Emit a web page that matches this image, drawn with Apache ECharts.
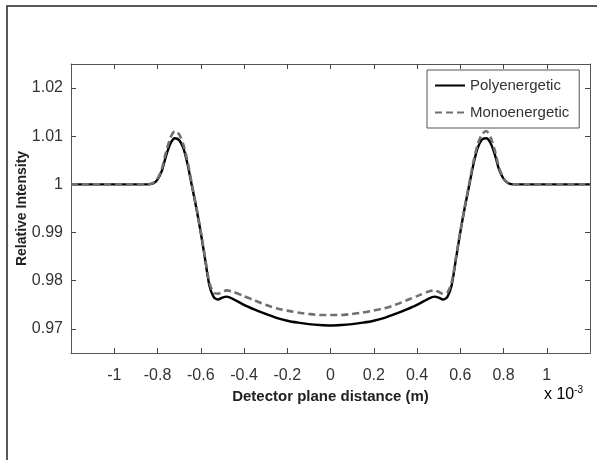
<!DOCTYPE html>
<html>
<head>
<meta charset="utf-8">
<script src="https://cdn.jsdelivr.net/npm/echarts@6/dist/echarts.min.js"></script>
<style>
html, body { margin: 0; padding: 0; background: #fff; }
#main { width: 597px; height: 460px; }
</style>
</head>
<body>
<div id="main"></div>
<script>
// detector position, in units of 1e-3 m
var xs = [-1.2, -0.9, -0.85, -0.82, -0.8, -0.78, -0.76, -0.74, -0.72, -0.7,
  -0.68, -0.66, -0.64, -0.62, -0.6, -0.58, -0.56, -0.54, -0.52, -0.5,
  -0.48, -0.45, -0.4, -0.35, -0.3, -0.25, -0.2, -0.15, -0.1, -0.05,
  0,
  0.05, 0.1, 0.15, 0.2, 0.25, 0.3, 0.35, 0.4, 0.45, 0.48,
  0.5, 0.52, 0.54, 0.56, 0.58, 0.6, 0.62, 0.64, 0.66, 0.68,
  0.7, 0.72, 0.74, 0.76, 0.78, 0.8, 0.82, 0.85, 0.9, 1.2];

var poly = [1.0, 1.0, 1.0, 1.0002, 1.0010, 1.0028, 1.0060, 1.0085, 1.0096, 1.0092,
  1.0075, 1.0040, 0.9995, 0.9950, 0.9900, 0.9845, 0.9790, 0.9766, 0.9761, 0.9765,
  0.9767, 0.9762, 0.9750, 0.9740, 0.9731, 0.9723, 0.9717, 0.9713, 0.9710, 0.9708,
  0.9707,
  0.9708, 0.9710, 0.9713, 0.9717, 0.9723, 0.9731, 0.9740, 0.9750, 0.9762, 0.9767,
  0.9765, 0.9761, 0.9766, 0.9790, 0.9845, 0.9900, 0.9950, 0.9995, 1.0040, 1.0075,
  1.0093, 1.0096, 1.0086, 1.0062, 1.0030, 1.0012, 1.0003, 1.0, 1.0, 1.0];

var mono = [1.0, 1.0, 1.0, 1.0003, 1.0012, 1.0032, 1.0068, 1.0097, 1.0111, 1.0104,
  1.0082, 1.0045, 0.9998, 0.9952, 0.9902, 0.9848, 0.9796, 0.9775, 0.9773, 0.9777,
  0.9780, 0.9777, 0.9768, 0.9759, 0.9750, 0.9743, 0.9738, 0.9734, 0.9731, 0.9729,
  0.9729,
  0.9729, 0.9731, 0.9734, 0.9738, 0.9743, 0.9750, 0.9759, 0.9768, 0.9777, 0.9780,
  0.9777, 0.9773, 0.9775, 0.9796, 0.9848, 0.9902, 0.9952, 0.9998, 1.0045, 1.0082,
  1.0104, 1.0111, 1.0098, 1.0070, 1.0034, 1.0013, 1.0003, 1.0, 1.0, 1.0];

var xTicks = [-1, -0.8, -0.6, -0.4, -0.2, 0, 0.2, 0.4, 0.6, 0.8, 1];
var yTicks = [0.97, 0.98, 0.99, 1, 1.01, 1.02];

function pairs(ys) {
  return xs.map(function (x, i) { return [x, ys[i]]; });
}

var font = 'Liberation Sans';

function xAxisCfg(pos, labels) {
  return {
    type: 'value', position: pos, min: -1.2, max: 1.2,
    axisLine: { show: true, onZero: false, lineStyle: { color: '#555', width: 1 } },
    axisTick: { show: true, inside: true, length: 5, customValues: xTicks, lineStyle: { color: '#444' } },
    axisLabel: {
      show: labels, customValues: xTicks, margin: 15,
      fontFamily: font, fontSize: 16, color: '#333',
      formatter: function (v) { return String(parseFloat(v.toFixed(2))); }
    },
    splitLine: { show: false }
  };
}
function yAxisCfg(pos, labels) {
  return {
    type: 'value', position: pos, min: 0.965, max: 1.025,
    axisLine: { show: true, onZero: false, lineStyle: { color: '#555', width: 1 } },
    axisTick: { show: true, inside: true, length: 5, customValues: yTicks, lineStyle: { color: '#444' } },
    axisLabel: {
      show: labels, customValues: yTicks, margin: 8,
      fontFamily: font, fontSize: 16, color: '#333',
      formatter: function (v) { return String(parseFloat(v.toFixed(3))); }
    },
    splitLine: { show: false }
  };
}

var myChart = echarts.init(document.getElementById('main'));
var xBottom = xAxisCfg('bottom', true);
xBottom.name = 'Detector plane distance (m)';
xBottom.nameLocation = 'middle';
xBottom.nameGap = 36;
xBottom.nameMoveOverlap = false;
xBottom.nameTextStyle = { fontFamily: font, fontSize: 15, fontWeight: 'bold', color: '#222' };
var yLeft = yAxisCfg('left', true);
yLeft.name = 'Relative Intensity';
yLeft.nameLocation = 'middle';
yLeft.nameGap = 42;
yLeft.nameMoveOverlap = false;
yLeft.nameTextStyle = { fontFamily: font, fontSize: 14, fontWeight: 'bold', color: '#222' };

var option = {
  backgroundColor: '#fff',
  animation: false,
  grid: { left: 71, right: 7, top: 64, bottom: 107 },
  xAxis: [xBottom, xAxisCfg('top', false)],
  yAxis: [yLeft, yAxisCfg('right', false)],
  legend: {
    orient: 'vertical', left: 427, top: 70,
    padding: [8, 10, 8, 7],
    itemWidth: 30, itemHeight: 14, itemGap: 12,
    backgroundColor: '#fff',
    borderColor: '#555', borderWidth: 1,
    itemStyle: { opacity: 0 },
    textStyle: { fontFamily: font, fontSize: 15, color: '#333' },
    data: ['Polyenergetic', 'Monoenergetic']
  },
  graphic: [
    { type: 'rect', shape: { x: 7, y: 6, width: 640, height: 500 }, style: { fill: null, stroke: '#222', lineWidth: 1.5 }, silent: true },
    {
      type: 'text', left: 544, top: 385,
      style: {
        text: '{a|x 10}{b|-3}',
        rich: {
          a: { fontFamily: font, fontSize: 16, color: '#333' },
          b: { fontFamily: font, fontSize: 10, color: '#333', verticalAlign: 'top', padding: [0, 0, 10, 0] }
        }
      }
    }
  ],
  series: [
    {
      name: 'Polyenergetic', type: 'line', symbol: 'none', smooth: 0.25,
      lineStyle: { color: '#000', width: 2.4 }, itemStyle: { color: '#000' },
      data: pairs(poly), z: 2
    },
    {
      name: 'Monoenergetic', type: 'line', symbol: 'none', smooth: 0.25,
      lineStyle: { color: '#707070', width: 2.6, type: [7, 4] }, itemStyle: { color: '#707070' },
      data: pairs(mono), z: 3
    }
  ]
};

myChart.setOption(option);
</script>
</body>
</html>
